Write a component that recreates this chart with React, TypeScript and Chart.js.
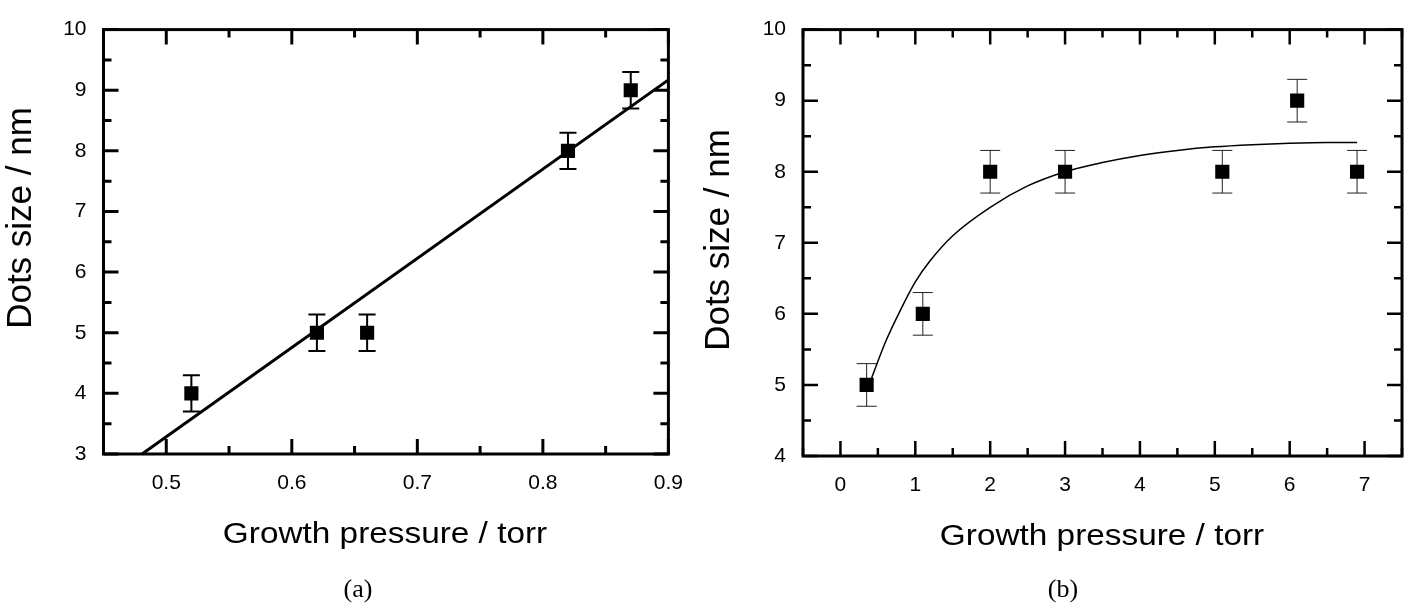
import React, { useEffect, useRef } from "react";
import { Chart, registerables } from "chart.js";
Chart.register(...registerables);

// ---------- Panel (a) ----------
const pressureA = [0.52, 0.62, 0.66, 0.82, 0.87];
const sizeA = [4, 5, 5, 8, 9];
const errorA = [0.3, 0.3, 0.3, 0.3, 0.3];
const fitAx = [0.4807, 0.9];
const fitAy = [3.0, 9.17];
const xTicksA = [0.5, 0.6, 0.7, 0.8, 0.9];
const xMinorA = [0.45, 0.55, 0.65, 0.75, 0.85];
const yTicksA = [3, 4, 5, 6, 7, 8, 9, 10];
const yMinorA = [3.5, 4.5, 5.5, 6.5, 7.5, 8.5, 9.5];

// ---------- Panel (b) ----------
const pressureB = [0.35, 1.1, 2, 3, 5.1, 6.1, 6.9];
const sizeB = [5, 6, 8, 8, 8, 9, 8];
const errorB = [0.3, 0.3, 0.3, 0.3, 0.3, 0.3, 0.3];
const fitBx = [0.4, 0.6, 0.8, 1.0, 1.2, 1.5, 2.0, 2.5, 3.0, 3.5, 4.0, 4.5, 5.0, 5.5, 6.0, 6.5, 6.9];
const fitBy = [5.05, 5.6, 6.05, 6.45, 6.75, 7.1, 7.5, 7.8, 8.0, 8.13, 8.23, 8.3, 8.35, 8.38, 8.4, 8.41, 8.41];
const xTicksB = [0, 1, 2, 3, 4, 5, 6, 7];
const xMinorB = [-0.5, 0.5, 1.5, 2.5, 3.5, 4.5, 5.5, 6.5, 7.5];
const yTicksB = [4, 5, 6, 7, 8, 9, 10];
const yMinorB = [4.5, 5.5, 6.5, 7.5, 8.5, 9.5];

const X_TITLE = "Growth pressure / torr";
const Y_TITLE = "Dots size / nm";

const SANS = "'Liberation Sans', Arial, sans-serif";
const SERIF = "'Liberation Serif', 'Times New Roman', serif";

const errorBarsPlugin = {
  id: "errorBars",
  beforeDatasetsDraw(chart: any, _args: any, opts: any) {
    const { ctx, scales } = chart;
    const xs = scales.x, ys = scales.y;
    const ds = chart.data.datasets[0];
    ctx.save();
    ctx.strokeStyle = opts.color || "#000";
    ctx.lineWidth = opts.lineWidth || 1;
    ds.data.forEach((p: any, i: number) => {
      const e = opts.errors[i];
      const px = xs.getPixelForValue(p.x);
      const y1 = ys.getPixelForValue(p.y - e);
      const y2 = ys.getPixelForValue(p.y + e);
      const hw = opts.capWidth / 2;
      ctx.beginPath();
      ctx.moveTo(px, y1);
      ctx.lineTo(px, y2);
      ctx.moveTo(px - hw, y1);
      ctx.lineTo(px + hw, y1);
      ctx.moveTo(px - hw, y2);
      ctx.lineTo(px + hw, y2);
      ctx.stroke();
    });
    ctx.restore();
  },
};

const frameTicksPlugin = {
  id: "frameTicks",
  afterDraw(chart: any, _args: any, opts: any) {
    const { ctx, chartArea: a, scales } = chart;
    const xs = scales.x, ys = scales.y;
    ctx.save();
    ctx.strokeStyle = "#000";
    ctx.lineWidth = opts.tickWidth;
    ctx.lineCap = "butt";
    const drawX = (vals: number[], len: number) => {
      vals.forEach((v) => {
        const px = xs.getPixelForValue(v);
        ctx.beginPath();
        ctx.moveTo(px, a.bottom);
        ctx.lineTo(px, a.bottom - len);
        ctx.moveTo(px, a.top);
        ctx.lineTo(px, a.top + len);
        ctx.stroke();
      });
    };
    const drawY = (vals: number[], len: number) => {
      vals.forEach((v) => {
        const py = ys.getPixelForValue(v);
        ctx.beginPath();
        ctx.moveTo(a.left, py);
        ctx.lineTo(a.left + len, py);
        ctx.moveTo(a.right, py);
        ctx.lineTo(a.right - len, py);
        ctx.stroke();
      });
    };
    drawX(opts.xMajor, opts.majorLen);
    drawX(opts.xMinor, opts.minorLen);
    drawY(opts.yMajor, opts.majorLen);
    drawY(opts.yMinor, opts.minorLen);
    ctx.lineWidth = opts.frameWidth;
    ctx.strokeRect(a.left, a.top, a.right - a.left, a.bottom - a.top);
    ctx.restore();
  },
};

const textPlugin = {
  id: "texts",
  afterDraw(chart: any, _args: any, opts: any) {
    const { ctx } = chart;
    (opts.items || []).forEach((t: any) => {
      ctx.save();
      ctx.fillStyle = "#000";
      ctx.font = t.font;
      ctx.textAlign = "center";
      ctx.textBaseline = t.baseline || "alphabetic";
      ctx.translate(t.x, t.y);
      if (t.rotate) ctx.rotate(t.rotate);
      if (t.sx) ctx.scale(t.sx, 1);
      ctx.fillText(t.text, 0, 0);
      ctx.restore();
    });
  },
};

type PanelCfg = {
  width: number;
  height: number;
  px: number[];
  py: number[];
  err: number[];
  fx: number[];
  fy: number[];
  fitWidth: number;
  fitMonotone: boolean;
  xMin: number;
  xMax: number;
  yMin: number;
  yMax: number;
  xTicks: number[];
  xMinor: number[];
  yTicks: number[];
  yMinor: number[];
  xFmt: (v: number) => string;
  leftW: number;
  bottomH: number;
  padTop: number;
  padRight: number;
  errWidth: number;
  errColor: string;
  capWidth: number;
  tickWidth: number;
  texts: any[];
};

function Panel({ cfg }: { cfg: PanelCfg }) {
  const ref = useRef<HTMLCanvasElement | null>(null);
  useEffect(() => {
    if (!ref.current) return;
    const chart = new Chart(ref.current, {
      type: "scatter",
      data: {
        datasets: [
          {
            data: cfg.px.map((x, i) => ({ x, y: cfg.py[i] })),
            pointStyle: "rect",
            pointRadius: 10,
            pointBackgroundColor: "#000",
            pointBorderWidth: 0,
            showLine: false,
          } as any,
          {
            data: cfg.fx.map((x, i) => ({ x, y: cfg.fy[i] })),
            showLine: true,
            pointRadius: 0,
            borderColor: "#000",
            borderWidth: cfg.fitWidth,
            cubicInterpolationMode: cfg.fitMonotone ? "monotone" : "default",
            fill: false,
          } as any,
        ],
      },
      options: {
        animation: false,
        responsive: false,
        devicePixelRatio: 1,
        layout: { padding: { top: cfg.padTop, right: cfg.padRight, bottom: 0, left: 0 } },
        plugins: {
          legend: { display: false },
          tooltip: { enabled: false },
          errorBars: { errors: cfg.err, capWidth: cfg.capWidth, lineWidth: cfg.errWidth, color: cfg.errColor },
          frameTicks: {
            xMajor: cfg.xTicks,
            xMinor: cfg.xMinor,
            yMajor: cfg.yTicks,
            yMinor: cfg.yMinor,
            majorLen: 15,
            minorLen: 8,
            tickWidth: cfg.tickWidth,
            frameWidth: 3,
          },
          texts: { items: cfg.texts },
        } as any,
        scales: {
          x: {
            type: "linear",
            min: cfg.xMin,
            max: cfg.xMax,
            grid: { display: false, drawTicks: false },
            border: { display: false },
            afterBuildTicks: (s: any) => {
              s.ticks = cfg.xTicks.map((v) => ({ value: v }));
            },
            afterFit: (s: any) => {
              s.height = cfg.bottomH;
            },
            ticks: {
              color: "#000",
              padding: 17,
              font: { family: SANS, size: 21 },
              maxRotation: 0,
              autoSkip: false,
              callback: (v: any) => cfg.xFmt(Number(v)),
            },
          },
          y: {
            type: "linear",
            min: cfg.yMin,
            max: cfg.yMax,
            grid: { display: false, drawTicks: false },
            border: { display: false },
            afterBuildTicks: (s: any) => {
              s.ticks = cfg.yTicks.map((v) => ({ value: v }));
            },
            afterFit: (s: any) => {
              s.width = cfg.leftW;
            },
            ticks: {
              color: "#000",
              padding: 17,
              font: { family: SANS, size: 21 },
              autoSkip: false,
              callback: (v: any) => String(v),
            },
          },
        },
      },
      plugins: [errorBarsPlugin, frameTicksPlugin, textPlugin],
    });
    return () => chart.destroy();
  }, []);
  return <canvas ref={ref} width={cfg.width} height={cfg.height} style={{ display: "block" }} />;
}

const cfgA: PanelCfg = {
  width: 700,
  height: 606,
  px: pressureA,
  py: sizeA,
  err: errorA,
  fx: fitAx,
  fy: fitAy,
  fitWidth: 3,
  fitMonotone: false,
  xMin: 0.45,
  xMax: 0.9,
  yMin: 3,
  yMax: 10,
  xTicks: xTicksA,
  xMinor: xMinorA,
  yTicks: yTicksA,
  yMinor: yMinorA,
  xFmt: (v) => v.toFixed(1),
  leftW: 103.5,
  bottomH: 152,
  padTop: 18.5,
  padRight: 25,
  errWidth: 2,
  errColor: "#000",
  capWidth: 17,
  tickWidth: 3,
  texts: [
    { text: X_TITLE, x: 385, y: 543, font: `29px ${SANS}`, sx: 1.15 },
    { text: Y_TITLE, x: 21, y: 218, font: `35px ${SANS}`, rotate: -Math.PI / 2, baseline: "middle" },
    { text: "(a)", x: 358, y: 597, font: `26px ${SERIF}` },
  ],
};

const cfgB: PanelCfg = {
  width: 712,
  height: 606,
  px: pressureB,
  py: sizeB,
  err: errorB,
  fx: fitBx,
  fy: fitBy,
  fitWidth: 1.5,
  fitMonotone: true,
  xMin: -0.5,
  xMax: 7.5,
  yMin: 4,
  yMax: 10,
  xTicks: xTicksB,
  xMinor: xMinorB,
  yTicks: yTicksB,
  yMinor: yMinorB,
  xFmt: (v) => String(v),
  leftW: 103,
  bottomH: 150,
  padTop: 24.5,
  padRight: 10,
  errWidth: 1,
  errColor: "#222",
  capWidth: 20,
  tickWidth: 2.5,
  texts: [
    { text: X_TITLE, x: 402, y: 545, font: `29px ${SANS}`, sx: 1.15 },
    { text: Y_TITLE, x: 19, y: 240, font: `35px ${SANS}`, rotate: -Math.PI / 2, baseline: "middle" },
    { text: "(b)", x: 363, y: 597, font: `26px ${SERIF}` },
  ],
};

export default function App() {
  useEffect(() => {
    document.body.style.margin = "0";
    document.body.style.background = "#fff";
  }, []);
  return (
    <div style={{ position: "relative", width: 1412, height: 606, background: "#fff" }}>
      <div style={{ position: "absolute", left: 0, top: 0 }}>
        <Panel cfg={cfgA} />
      </div>
      <div style={{ position: "absolute", left: 700, top: 0 }}>
        <Panel cfg={cfgB} />
      </div>
    </div>
  );
}
